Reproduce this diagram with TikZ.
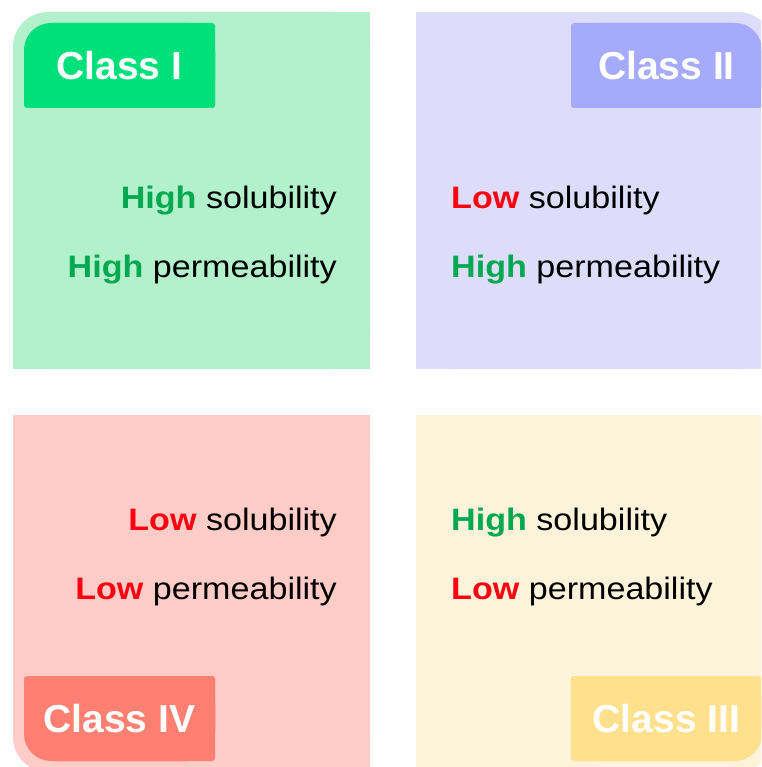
\documentclass[tikz,border=0pt]{standalone}
\usepackage{fontspec}
\setmainfont{Liberation Sans}
\newfontfamily\bodyfont[FakeStretch=1.1]{Liberation Sans}
\definecolor{pone}{HTML}{B3F0CC}
\definecolor{lone}{HTML}{00E07A}
\definecolor{ptwo}{HTML}{DDDDFA}
\definecolor{ltwo}{HTML}{A6AAFA}
\definecolor{pfour}{HTML}{FFCCC8}
\definecolor{lfour}{HTML}{FF8072}
\definecolor{pthree}{HTML}{FCF3DA}
\definecolor{lthree}{HTML}{FFE08C}
\definecolor{higreen}{HTML}{00A850}
\definecolor{lored}{HTML}{FF0010}
\newcommand\hiword[1]{\textcolor{higreen}{\bfseries #1}}
\newcommand\loword[1]{\textcolor{lored}{\bfseries #1}}
\tikzset{
  labtext/.style={text=white, inner sep=0pt, font=\fontsize{39}{39}\selectfont\bfseries},
  rowr/.style={anchor=base east, inner sep=0pt, text=black, font=\bodyfont\fontsize{31}{31}\selectfont},
  rowl/.style={anchor=base west, inner sep=0pt, text=black, font=\bodyfont\fontsize{31}{31}\selectfont}
}
\begin{document}
\begin{tikzpicture}[x=1pt,y=-1pt]
\useasboundingbox (0,0) rectangle (761,767);
\clip (0,0) rectangle (761,767);
% Panel I (top-left corner rounded)
\fill[pone,rounded corners=35] (13,12) rectangle (370,369);
\fill[pone] (48,12) rectangle (370,369);
\fill[pone] (13,47) rectangle (370,369);
% Panel II (top-right corner rounded)
\fill[ptwo,rounded corners=35] (416,12) rectangle (773,369);
\fill[ptwo] (416,12) rectangle (738,369);
\fill[ptwo] (416,47) rectangle (773,369);
% Panel IV (bottom-left corner rounded)
\fill[pfour,rounded corners=35] (13,415) rectangle (370,772);
\fill[pfour] (48,415) rectangle (370,772);
\fill[pfour] (13,415) rectangle (370,737);
% Panel III (bottom-right corner rounded)
\fill[pthree,rounded corners=35] (416,415) rectangle (773,772);
\fill[pthree] (416,415) rectangle (738,772);
\fill[pthree] (416,415) rectangle (773,737);
% Label I
\fill[lone,rounded corners=27] (24,23) rectangle (215,108);
\fill[lone,rounded corners=3] (51,23) rectangle (215,108);
\fill[lone,rounded corners=3] (24,50) rectangle (215,108);
% Label II
\fill[ltwo,rounded corners=27] (571,23) rectangle (762,108);
\fill[ltwo,rounded corners=3] (571,23) rectangle (735,108);
\fill[ltwo,rounded corners=3] (571,50) rectangle (762,108);
% Label IV
\fill[lfour,rounded corners=27] (24,676) rectangle (215,761);
\fill[lfour,rounded corners=3] (51,676) rectangle (215,761);
\fill[lfour,rounded corners=3] (24,676) rectangle (215,734);
% Label III
\fill[lthree,rounded corners=27] (571,676) rectangle (762,761);
\fill[lthree,rounded corners=3] (571,676) rectangle (735,761);
\fill[lthree,rounded corners=3] (571,676) rectangle (762,734);
% Label texts
\node[labtext] (cone) at (119.5,65.5) {Class I};
\node[labtext] (ctwo) at (666.5,65.5) {Class II};
\node[labtext] (cfour) at (119.5,718.5) {Class IV};
\node[labtext] (cthree) at (666.5,718.5) {Class III};
% Property rows
\node[rowr] (oneS) at (337,208) {\hiword{High} solubility};
\node[rowr] (oneP) at (337,277) {\hiword{High} permeability};
\node[rowl] (twoS) at (451,208) {\loword{Low} solubility};
\node[rowl] (twoP) at (451,277) {\hiword{High} permeability};
\node[rowr] (fourS) at (337,530) {\loword{Low} solubility};
\node[rowr] (fourP) at (337,599) {\loword{Low} permeability};
\node[rowl] (threeS) at (451,530) {\hiword{High} solubility};
\node[rowl] (threeP) at (451,599) {\loword{Low} permeability};
\end{tikzpicture}
\end{document}
